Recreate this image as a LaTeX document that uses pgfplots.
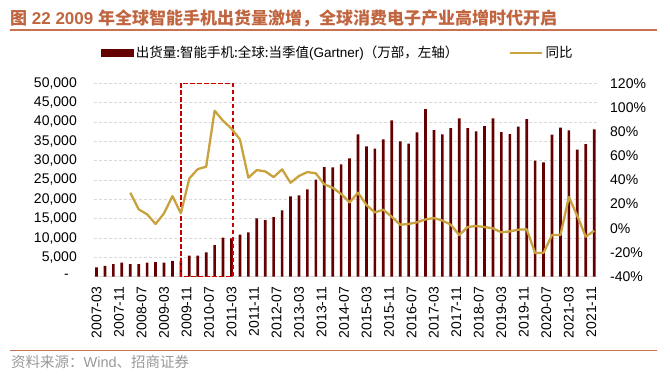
\documentclass[border=0pt]{standalone}
\usepackage{fontspec}
\setmainfont{Liberation Sans}
\newfontfamily\cjk{Noto Sans CJK SC}
\usepackage{pgfplots}
\pgfplotsset{compat=1.18}
\usepackage{pgfplotstable}
\definecolor{barcol}{HTML}{650000}
\definecolor{linecol}{HTML}{C9A23D}
\definecolor{titlecol}{HTML}{C0653F}
\definecolor{rulecol}{HTML}{C87252}
\definecolor{gridcol}{HTML}{D9D9D9}
\definecolor{boxcol}{HTML}{C80000}
\pgfplotstableread{
m v
0 2430
3 2770
6 3280
9 3620
12 3280
15 3280
18 3620
21 3800
24 3620
27 4060
30 4060
33 5430
36 5430
39 6300
42 8190
45 10080
48 9920
51 10860
54 11480
57 15090
60 14650
63 15430
66 17160
69 20780
72 21040
75 22590
78 25080
81 28360
84 28270
87 29050
90 30600
93 36800
96 33700
99 33100
102 35500
105 40430
108 35000
111 34380
114 37330
117 43350
120 37920
123 36800
126 38440
129 40940
132 38440
135 37580
138 38950
141 40940
144 37400
147 36890
150 38780
153 40770
156 29990
159 29570
162 36700
165 38520
168 37840
171 32830
174 34300
177 38100
}\shipdata
\pgfplotstableread{
m y
12 29.5
15 15.7
18 11.6
21 3.6
24 12.4
27 26.7
30 12.4
33 41.3
36 49.0
39 51.0
42 97.3
45 89.0
48 82.5
51 73.6
54 41.9
57 48.2
60 47.1
63 42.4
66 48.8
69 37.7
72 43.3
75 46.6
78 45.5
81 36.4
84 33.6
87 28.4
90 21.5
93 29.5
96 19.3
99 13.2
102 15.4
105 9.6
108 3.0
111 3.6
114 5.0
117 7.4
120 8.5
123 6.5
126 3.0
129 -5.5
132 1.1
135 1.9
138 1.1
141 0.0
144 -3.3
147 -2.5
150 -1.1
153 -0.8
156 -20.4
159 -20.2
162 -5.5
165 -5.5
168 25.9
171 10.2
174 -6.9
177 -2.0
}\yoydata
\begin{document}
\begin{tikzpicture}
\useasboundingbox (0,0) rectangle (670pt,-379pt);
\pgfplotsset{
  base/.style={
    scale only axis,
    width=503pt, height=193.4pt,
    at={(94pt,-276.7pt)}, anchor=south west,
    xmin=-0.9, xmax=178,
    axis line style={draw=none},
    major tick length=0pt,
    tick label style={font=\fontsize{14}{15}\selectfont},
  }
}
\begin{axis}[base,
  clip=false,
  ymin=0, ymax=50000,
  scaled y ticks=false,
  ytick={0,5000,...,50000},
  yticklabels={{-\hspace*{8pt}},{5,000},{10,000},{15,000},{20,000},{25,000},{30,000},{35,000},{40,000},{45,000},{50,000}},
  yticklabel style={anchor=east, inner sep=0pt, xshift=-17pt},
  ymajorgrids,
  grid style={gridcol, dashed, line width=0.8pt, dash pattern=on 3pt off 2pt},
  xtick={0,8,...,176},
  xticklabels={2007-03,2007-11,2008-07,2009-03,2009-11,2010-07,2011-03,2011-11,2012-07,2013-03,2013-11,2014-07,2015-03,2015-11,2016-07,2017-03,2017-11,2018-07,2019-03,2019-11,2020-07,2021-03,2021-11},
  xticklabel style={yshift=-10pt, rotate=90, anchor=east, inner sep=0pt},
]
\draw[gridcol, line width=1.6pt] (rel axis cs:0,0) -- (rel axis cs:1,0);
\addplot[ybar, bar width=0.95, fill=barcol, draw=none] table[x=m, y=v] {\shipdata};
\draw[boxcol, line width=1.4pt, dash pattern=on 4.5pt off 2.5pt] (axis cs:30,0) rectangle (axis cs:48.5,50000);
\end{axis}
\begin{axis}[base,
  ymin=-40, ymax=120,
  ytick={-40,-20,...,120},
  yticklabels={-40\%,-20\%,0\%,20\%,40\%,60\%,80\%,100\%,120\%},
  axis y line*=right,
  yticklabel style={anchor=west, inner sep=0pt, xshift=13pt},
  xtick=\empty,
  legend style={at={(rel axis cs:0.0139,1.158)}, anchor=west, draw=none, fill=none,
    inner sep=0pt, outer sep=0pt,
    font=\fontsize{13.5}{14}\selectfont,
    nodes={inner sep=2.5pt},
    /tikz/every even column/.append style={column sep=48pt}},
  legend columns=2,
]
\addlegendimage{legend image code/.code={\fill[barcol] (0pt,-3.5pt) rectangle (32pt,3.5pt);}}
\addlegendentry{{\cjk 出货量:智能手机:全球:当季值}(Gartner){\cjk （万部，左轴）}}
\addplot[linecol, line width=2.3pt, line join=round, no marks,
  legend image code/.code={\draw[linecol, line width=2.3pt] (0pt,0pt) -- (32pt,0pt);}]
  table[x=m, y=y] {\yoydata};
\addlegendentry{{\cjk 同比}}
\end{axis}
\node[anchor=west, inner sep=0pt, text=titlecol, font=\fontsize{17}{18}\selectfont\bfseries] at (10pt,-18.5pt)
  {{\cjk 图} 22 2009 {\cjk 年全球智能手机出货量激增，全球消费电子产业高增时代开启}};
\draw[rulecol, line width=1.5pt] (10pt,-30pt) -- (657pt,-30pt);
\draw[rulecol, line width=1.5pt] (10pt,-350.7pt) -- (657pt,-350.7pt);
\node[anchor=west, inner sep=0pt, text=black!40, font=\fontsize{14.5}{15}\selectfont] at (11pt,-361.5pt)
  {{\cjk 资料来源：}Wind{\cjk 、招商证券}};
\end{tikzpicture}
\end{document}
